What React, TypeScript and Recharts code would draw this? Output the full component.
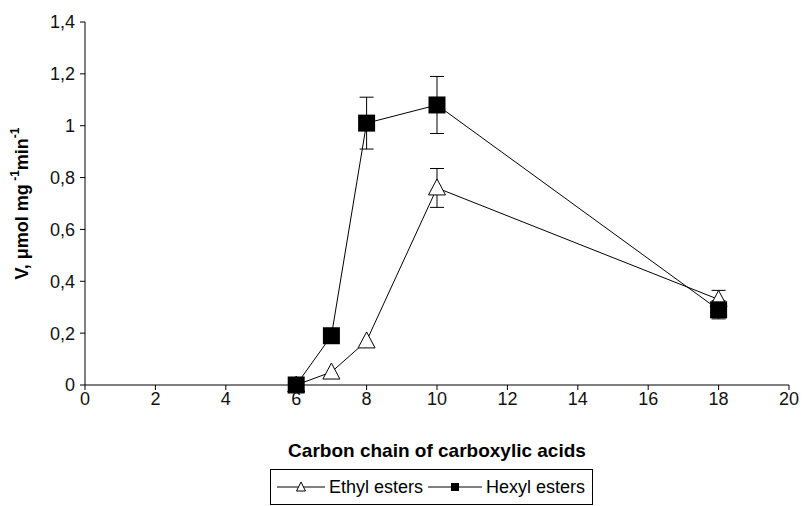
import { LineChart, Line, XAxis, YAxis, ErrorBar } from "recharts";

const carbons = [6, 7, 8, 10, 18];
const ethyl = [0, 0.05, 0.17, 0.76, 0.33];
const ethylErr = [0, 0, 0, 0.075, 0.035];
const hexyl = [0, 0.19, 1.01, 1.08, 0.29];
const hexylErr = [0, 0, 0.1, 0.11, 0.035];
const xTicks = [0, 2, 4, 6, 8, 10, 12, 14, 16, 18, 20];
const yTicks = [0, 0.2, 0.4, 0.6, 0.8, 1, 1.2, 1.4];

const data = carbons.map((c, i) => ({
  c,
  ethyl: ethyl[i],
  ethylErr: ethylErr[i],
  hexyl: hexyl[i],
  hexylErr: hexylErr[i],
}));

const FONT = "'Liberation Sans', Arial, sans-serif";

const Triangle = (props: any) => {
  const { cx, cy, index } = props;
  if (cx == null || cy == null) return null;
  return (
    <path
      key={`t-${index}`}
      d={`M${cx},${cy - 9} L${cx + 8.5},${cy + 7} L${cx - 8.5},${cy + 7} Z`}
      fill="#fff"
      stroke="#000"
      strokeWidth={1}
    />
  );
};

const Square = (props: any) => {
  const { cx, cy, index } = props;
  if (cx == null || cy == null) return null;
  return (
    <rect key={`s-${index}`} x={cx - 8.5} y={cy - 8.5} width={17} height={17} fill="#000" />
  );
};

const YLabel = (props: any) => {
  const vb = props.viewBox || {};
  const x = 22;
  const y = vb.y + vb.height / 2;
  return (
    <text
      x={x}
      y={y}
      transform={`rotate(-90 ${x} ${y})`}
      textAnchor="middle"
      dominantBaseline="central"
      fontFamily={FONT}
      fontWeight="bold"
      fontSize={18}
      fill="#000"
    >
      V, μmol mg
      <tspan fontSize={12} dy={-7}> -1</tspan>
      <tspan dy={7}>min</tspan>
      <tspan fontSize={12} dy={-7}>-1</tspan>
    </text>
  );
};

const fmt = (v: number) => String(v).replace(".", ",");

export default function App() {
  return (
    <div style={{ position: "absolute", left: 0, top: 0, width: 802, height: 506, background: "#fff" }}>
      <LineChart
        width={802}
        height={506}
        data={data}
        margin={{ top: 22, right: 13, left: 0, bottom: 41 }}
      >
        <XAxis
          dataKey="c"
          type="number"
          domain={[0, 20]}
          ticks={xTicks}
          axisLine={{ stroke: "#000" }}
          tickLine={{ stroke: "#000" }}
          tickSize={5}
          tick={{ fill: "#111", fontSize: 18, fontFamily: FONT }}
          height={80}
          label={{
            value: "Carbon chain of carboxylic acids",
            position: "insideBottom",
            offset: 8,
            fill: "#000",
            fontSize: 19,
            fontWeight: "bold",
            fontFamily: FONT,
          }}
        />
        <YAxis
          type="number"
          domain={[0, 1.4]}
          ticks={yTicks}
          width={85}
          axisLine={{ stroke: "#000" }}
          tickLine={{ stroke: "#000" }}
          tickSize={5}
          tickMargin={5}
          tickFormatter={fmt}
          tick={{ fill: "#111", fontSize: 18, fontFamily: FONT }}
          label={<YLabel />}
        />
        <Line
          dataKey="ethyl"
          stroke="#000"
          strokeWidth={1}
          dot={<Triangle />}
          isAnimationActive={false}
        >
          <ErrorBar dataKey="ethylErr" width={7} stroke="#000" strokeWidth={1} direction="y" />
        </Line>
        <Line
          dataKey="hexyl"
          stroke="#000"
          strokeWidth={1}
          dot={<Square />}
          isAnimationActive={false}
        >
          <ErrorBar dataKey="hexylErr" width={7} stroke="#000" strokeWidth={1} direction="y" />
        </Line>
      </LineChart>
      <div
        style={{
          position: "absolute",
          left: 270,
          top: 469,
          width: 321,
          height: 34,
          border: "1px solid #000",
          display: "flex",
          alignItems: "center",
          fontFamily: FONT,
          fontSize: 18,
          color: "#000",
        }}
      >
        <svg width={50} height={20} style={{ marginLeft: 6 }}>
          <line x1={0} y1={10} x2={48} y2={10} stroke="#000" />
          <path d="M24,5 L28.5,14 L19.5,14 Z" fill="#fff" stroke="#000" />
        </svg>
        <span style={{ marginLeft: 2 }}>Ethyl esters</span>
        <svg width={56} height={20} style={{ marginLeft: 5 }}>
          <line x1={0} y1={10} x2={54} y2={10} stroke="#000" />
          <rect x={23} y={6} width={8} height={8} fill="#000" />
        </svg>
        <span style={{ marginLeft: 2 }}>Hexyl esters</span>
      </div>
    </div>
  );
}
